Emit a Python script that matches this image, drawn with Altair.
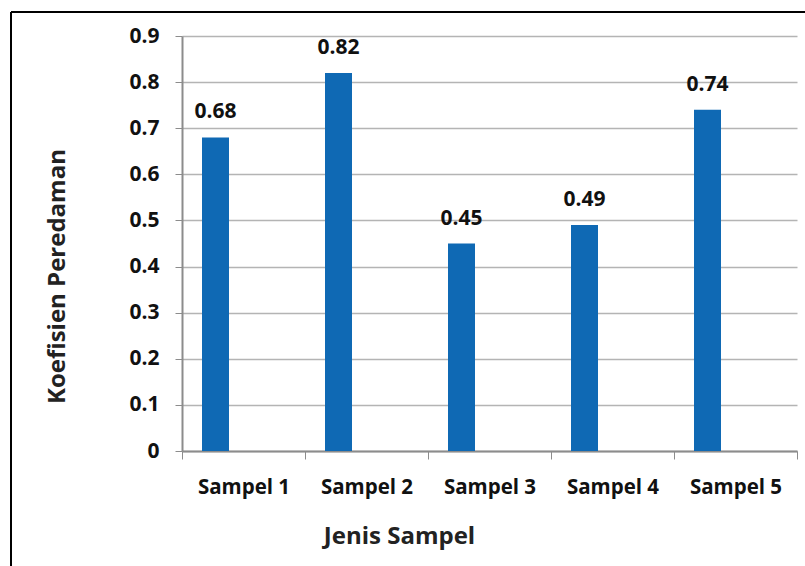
import altair as alt
import pandas as pd

# Koefisien peredaman per jenis sampel
samples = ["Sampel 1", "Sampel 2", "Sampel 3", "Sampel 4", "Sampel 5"]
coefficients = [0.68, 0.82, 0.45, 0.49, 0.74]
y_ticks = [0, 0.1, 0.2, 0.3, 0.4, 0.5, 0.6, 0.7, 0.8, 0.9]

df = pd.DataFrame({"sampel": samples, "koef": coefficients})

FONT = "Open Sans"
BAR_COLOR = "#0F69B4"

x_enc = alt.X(
    "sampel:N",
    sort=samples,
    scale=alt.Scale(paddingInner=0, paddingOuter=0),
    axis=alt.Axis(
        title="Jenis Sampel",
        titleFont=FONT,
        titleFontSize=24,
        titleFontWeight="bold",
        titleColor="#222222",
        titleX=217,
        titleY=85,
        titleBaseline="middle",
        labelAngle=0,
        labelFont=FONT,
        labelFontSize=20.5,
        labelFontWeight="bold",
        labelColor="#111111",
        labelPadding=18,
        tickBand="extent",
        tickSize=8,
        tickColor="#8C8C8C",
        domainColor="#8C8C8C",
        domainWidth=2,
        grid=False,
    ),
)

y_enc = alt.Y(
    "koef:Q",
    scale=alt.Scale(domain=[0, 0.9], nice=False),
    axis=alt.Axis(
        title="Koefisien Peredaman",
        titleFont=FONT,
        titleFontSize=24,
        titleFontWeight="bold",
        titleColor="#222222",
        titleX=-125,
        titleY=240,
        titleAngle=270,
        titleAlign="center",
        titleBaseline="middle",
        values=y_ticks,
        format="~g",
        labelFont=FONT,
        labelFontSize=21,
        labelFontWeight="bold",
        labelColor="#111111",
        labelPadding=16,
        tickSize=7,
        tickColor="#8C8C8C",
        domainColor="#8C8C8C",
        domainWidth=2,
        gridColor="#B4B4B4",
        gridWidth=1.5,
    ),
)

bars = alt.Chart(df).mark_bar(color=BAR_COLOR, width=27, xOffset=-28).encode(
    x=x_enc, y=y_enc
)

labels = alt.Chart(df).mark_text(
    font=FONT,
    fontSize=21,
    fontWeight="bold",
    color="#111111",
    baseline="alphabetic",
    dy=-19,
    xOffset=-28,
).encode(
    x=alt.X("sampel:N", sort=samples),
    y=alt.Y("koef:Q"),
    text=alt.Text("koef:Q", format=".2f"),
)

# outer frame of the figure (left and top edges)
frame_left = alt.Chart(df).mark_rule(color="#000000", strokeWidth=2).encode(
    x=alt.value(-171), y=alt.value(-24), y2=alt.value(560)
)
frame_top = alt.Chart(df).mark_rule(color="#000000", strokeWidth=2).encode(
    x=alt.value(-171), x2=alt.value(640), y=alt.value(-24)
)

chart = (
    alt.layer(bars, labels, frame_left, frame_top)
    .properties(
        width=615,
        height=415,
        autosize=alt.AutoSizeParams(type="none"),
        padding={"left": 182, "top": 36, "right": 8, "bottom": 115},
        background="white",
    )
    .configure_view(stroke=None)
)

chart.save("out.html", embed_options={"renderer": "svg", "actions": False})
